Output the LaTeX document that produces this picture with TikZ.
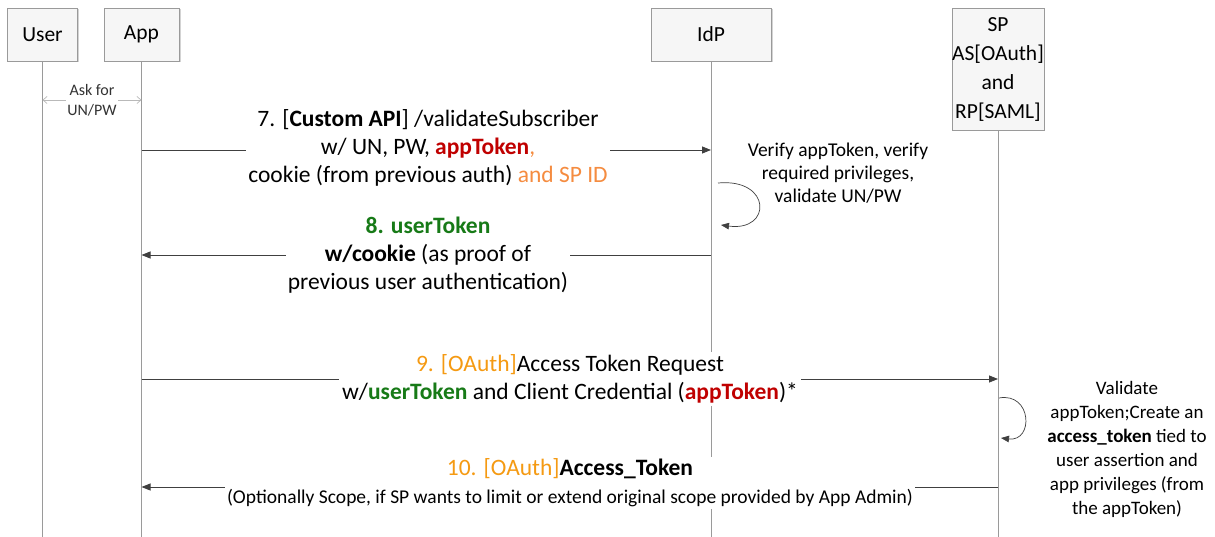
\documentclass[tikz,border=0pt]{standalone}
\usepackage{fontspec}
\setmainfont{Carlito}
\usetikzlibrary{arrows.meta,shadows}
\definecolor{msgline}{HTML}{404040}
\definecolor{lifegray}{HTML}{9A9A9A}
\definecolor{tokred}{HTML}{C00000}
\definecolor{tokgreen}{HTML}{177A17}
\definecolor{oauthorange}{HTML}{F59A12}
\definecolor{spidorange}{HTML}{F58C40}
\newcommand{\szHead}{\fontsize{21.5}{29}\selectfont}
\newcommand{\szLarge}{\fontsize{23.5}{28}\selectfont}
\newcommand{\szNote}{\fontsize{19.5}{23}\selectfont}
\newcommand{\szSmall}{\fontsize{19}{24}\selectfont}
\begin{document}
\begin{tikzpicture}[x=1pt,y=-1pt,
  actor/.style={draw=lifegray,fill=gray!7,minimum width=#1,inner sep=0pt,
    align=center,font=\szHead,
    drop shadow={opacity=0.35,shadow xshift=1.5pt,shadow yshift=-1.5pt}},
  lifeline/.style={draw=lifegray,line width=0.8pt},
  msg/.style={draw=msgline,line width=0.8pt,-{Triangle[length=9pt,width=7pt]}},
  lbl/.style={fill=white,inner sep=2pt,align=center,font=\szLarge},
  note/.style={align=center,font=\szNote}]
\useasboundingbox (0,0) rectangle (1215,537);

% participants
\node[actor=70pt,minimum height=53pt] (user) at (42.5,34.5) {User};
\node[actor=75pt,minimum height=53pt] (app) at (141.5,34.5) {App};
\node[actor=120pt,minimum height=53pt] (idp) at (711,34.5) {IdP};
\node[actor=86pt,minimum height=122pt] (sp) at (998,69)
  {SP\\AS[OAuth]\\and\\RP[SAML]};

% lifeline ends
\coordinate (userEnd) at (user.south |- 0,537);
\coordinate (appEnd) at (app.south |- 0,537);
\coordinate (idpEnd) at (idp.south |- 0,537);
\coordinate (spEnd) at (sp.south |- 0,537);
\draw[lifeline] (user.south) -- (userEnd);
\draw[lifeline] (app.south) -- (appEnd);
\draw[lifeline] (idp.south) -- (idpEnd);
\draw[lifeline] (sp.south) -- (spEnd);

% message anchor points on the lifelines
\coordinate (uAsk) at (user.south |- 0,100);
\coordinate (aAsk) at (app.south |- 0,100);
\coordinate (a7) at (app.south |- 0,150);
\coordinate (i7) at (idp.south |- 0,150);
\coordinate (i8) at (idp.south |- 0,255);
\coordinate (a8) at (app.south |- 0,255);
\coordinate (a9) at (app.south |- 0,379);
\coordinate (s9) at (sp.south |- 0,379);
\coordinate (s10) at (sp.south |- 0,487);
\coordinate (a10) at (app.south |- 0,487);

% ask for credentials
\draw[draw=gray!55,line width=0.7pt,{Straight Barb[length=4pt,width=7pt]}-{Straight Barb[length=4pt,width=7pt]}]
  (uAsk) -- (aAsk);
\node[fill=white,inner sep=1pt,align=center,font=\fontsize{16}{20}\selectfont,text=black!80]
  (askLbl) at (92,100) {Ask for\\UN/PW};

% step 7
\draw[msg] (a7) -- (i7);
\node[lbl] (m7) at (428,148)
  {7. [\textbf{Custom API}] /validateSubscriber\\
   w/ UN, PW, \textcolor{tokred}{\textbf{appToken}}\textcolor{spidorange}{,}\\
   cookie (from previous auth) \textcolor{spidorange}{and SP ID}};

% IdP self check
\coordinate (loopIdpA) at (718,183);
\coordinate (loopIdpB) at (721,225);
\draw[draw=msgline,line width=0.7pt,-{Triangle[length=8pt,width=6.5pt]}]
  (loopIdpA) .. controls (772,178) and (772,232) .. (loopIdpB);
\node[note] (n7) at (838,173)
  {Verify appToken, verify\\required privileges,\\validate UN/PW};

% step 8
\draw[msg] (i8) -- (a8);
\node[lbl] (m8) at (428,255)
  {\textcolor{tokgreen}{\textbf{8. userToken}}\\
   \textbf{w/cookie} (as proof of\\
   previous user authentication)};

% step 9
\draw[msg] (a9) -- (s9);
\node[lbl,inner sep=3pt] (m9) at (570,379)
  {\textcolor{oauthorange}{9. [OAuth]}Access Token Request\\
   w/\textcolor{tokgreen}{\textbf{userToken}} and Client Credential (\textcolor{tokred}{\textbf{appToken}})*};

% SP self check
\coordinate (loopSpA) at (999,398);
\coordinate (loopSpB) at (1001,438);
\draw[draw=msgline,line width=0.7pt,-{Triangle[length=8pt,width=6.5pt]}]
  (loopSpA) .. controls (1032,392) and (1034,442) .. (loopSpB);
\node[note,font=\szSmall] (n9) at (1127,449)
  {Validate\\appToken;Create an\\\textbf{access\_token} tied to\\user assertion and\\app privileges (from\\the appToken)};

% step 10
\draw[msg] (s10) -- (a10);
\node[lbl,align=center] (m10) at (570,483)
  {\textcolor{oauthorange}{10. [OAuth]}\textbf{Access\_Token}\\[0pt]
   {\fontsize{19.5}{22}\selectfont (Optionally Scope, if SP wants to limit or extend original scope provided by App Admin)}};
\end{tikzpicture}
\end{document}
